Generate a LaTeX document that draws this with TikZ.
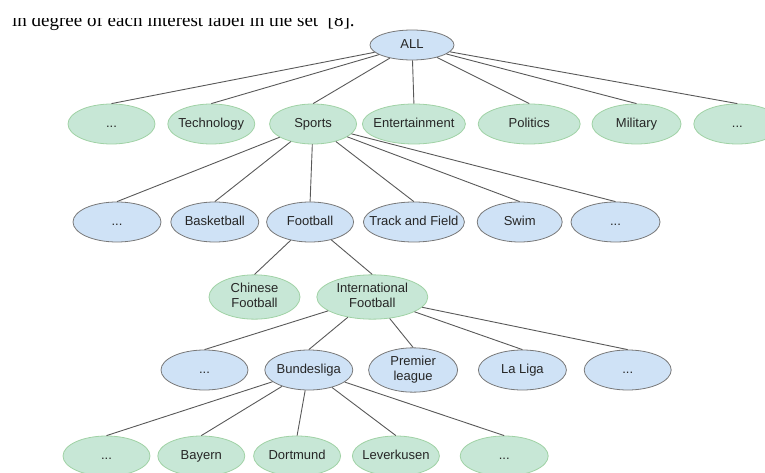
\documentclass[tikz,border=0pt]{standalone}
\usepackage{fontspec}
\setmainfont{Liberation Sans}
\newfontfamily\bodyserif{Liberation Serif}
\usetikzlibrary{shapes.geometric}
\usetikzlibrary{positioning}
\definecolor{topicgreen}{RGB}{199,231,214}
\definecolor{topicgreenline}{RGB}{160,210,165}
\definecolor{topicblue}{RGB}{207,226,246}
\definecolor{topicblueline}{RGB}{120,120,120}
\newcommand{\lbl}[1]{\makebox[0pt]{\renewcommand{\arraystretch}{1.12}\begin{tabular}{@{}c@{}}#1\end{tabular}}}

\begin{document}
\begin{tikzpicture}[x=1pt,y=-1pt,font=\fontsize{13}{14}\selectfont]
\tikzstyle{greentopic} = [ellipse, draw=topicgreenline, fill=topicgreen, text=black!85, line width=0.8pt, minimum width=87pt, minimum height=40pt, inner sep=0pt]
\tikzstyle{bluetopic} = [ellipse, draw=topicblueline, fill=topicblue, text=black!85, line width=0.8pt, minimum width=87pt, minimum height=40pt, inner sep=0pt]
\tikzstyle{link} = [draw=black!65, line width=0.9pt]

\useasboundingbox (0,0) rectangle (765,473);
\clip (0,0) rectangle (765,473);

% cut-off caption line above the tree
\begin{scope}
\clip (0,18.5) rectangle (765,40);
\node[anchor=base west, inner sep=0pt, font=\bodyserif\fontsize{19}{22}\selectfont] (intro) at (12,26.5) {in degree of each interest label in the set\hspace{0.5em}[8].};
\end{scope}

% root
\node[bluetopic, minimum width=84pt, minimum height=30pt] (all) at (412,45) {\lbl{ALL}};

% first level
\node[greentopic] (L1a) at (111.5,124) {\lbl{...}};
\node[greentopic] (tech) [right = 12pt of L1a] {\lbl{Technology}};
\node[greentopic] (sports) [right = 14pt of tech] {\lbl{Sports}};
\node[greentopic, minimum width=103pt] (ent) [right = 5pt of sports] {\lbl{Entertainment}};
\node[greentopic, minimum width=102pt] (pol) [right = 12pt of ent] {\lbl{Politics}};
\node[greentopic, minimum width=89pt] (mil) [right = 11pt of pol] {\lbl{Military}};
\node[greentopic] (L1b) [right = 12pt of mil] {\lbl{...}};

% sports
\node[bluetopic, minimum width=88pt] (L2a) at (117,222) {\lbl{...}};
\node[bluetopic, minimum width=88pt] (basket) [right = 9pt of L2a] {\lbl{Basketball}};
\node[bluetopic] (football) [right = 7pt of basket] {\lbl{Football}};
\node[bluetopic, minimum width=101pt] (track) [right = 9pt of football] {\lbl{Track and Field}};
\node[bluetopic, minimum width=85pt] (swim) [right = 12pt of track] {\lbl{Swim}};
\node[bluetopic, minimum width=89pt] (L2b) [right = 8pt of swim] {\lbl{...}};

% football
\node[greentopic, minimum width=91pt, minimum height=42pt] (chinese) at (254.5,297) {\lbl{Chinese\\Football}};
\node[greentopic, minimum width=111pt, minimum height=42pt] (intl) [right = 16pt of chinese] {\lbl{International\\Football}};

% international football
\node[bluetopic] (L4a) at (204.5,370) {\lbl{...}};
\node[bluetopic, minimum width=88pt] (bundes) [right = 16pt of L4a] {\lbl{Bundesliga}};
\node[bluetopic, minimum width=89pt] (premier) [right = 15pt of bundes] {\lbl{Premier\\league}};
\node[bluetopic, minimum width=88pt] (laliga) [right = 20pt of premier] {\lbl{La Liga}};
\node[bluetopic] (L4b) [right = 17pt of laliga] {\lbl{...}};

% bundesliga
\node[greentopic] (L5a) at (106.5,456) {\lbl{...}};
\node[greentopic] (bayern) [right = 7pt of L5a] {\lbl{Bayern}};
\node[greentopic] (dortmund) [right = 8pt of bayern] {\lbl{Dortmund}};
\node[greentopic] (leverkusen) [right = 11pt of dortmund] {\lbl{Leverkusen}};
\node[greentopic, minimum width=88pt] (L5b) [right = 20pt of leverkusen] {\lbl{...}};

% links
\foreach \child in {L1a,tech,sports,ent,pol,mil,L1b}
  \draw[link] (all) -- (\child.north);
\foreach \child in {L2a,basket,football,track,swim,L2b}
  \draw[link] (sports) -- (\child.north);
\foreach \child in {chinese,intl}
  \draw[link] (football) -- (\child.north);
\foreach \child in {L4a,bundes,premier,laliga,L4b}
  \draw[link] (intl) -- (\child.north);
\foreach \child in {L5a,bayern,dortmund,leverkusen,L5b}
  \draw[link] (bundes) -- (\child.north);
\end{tikzpicture}
\end{document}
